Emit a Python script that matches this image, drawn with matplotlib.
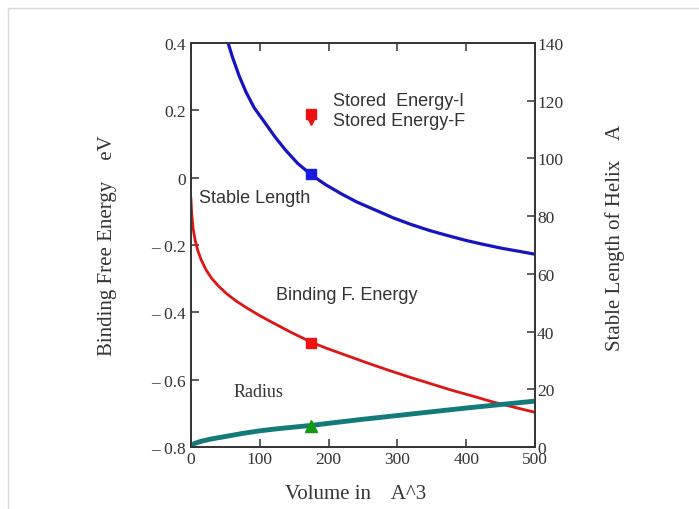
import matplotlib
matplotlib.use('Agg')
import matplotlib.pyplot as plt
from matplotlib.lines import Line2D

# values
# binding free energy (eV, left axis) vs volume (A^3)
vol_energy = [0, 1, 3, 6, 10, 15, 22, 30, 40, 52, 66, 82, 100, 120, 145,
              176, 200, 230, 260, 290, 320, 350, 380, 410, 440, 470, 500]
energy = [-0.063, -0.105, -0.150, -0.185, -0.217, -0.245, -0.274, -0.299,
          -0.322, -0.345, -0.367, -0.388, -0.410, -0.432, -0.459, -0.490,
          -0.509, -0.531, -0.553, -0.574, -0.594, -0.613, -0.632, -0.649,
          -0.667, -0.682, -0.697]

# stable length of helix (A, right axis)
vol_length = [54, 60, 70, 80, 92, 108, 122, 137, 155, 174, 195, 218, 241,
              268, 294, 320, 347, 374, 401, 427, 453, 477, 500]
length = [140, 135.3, 128.6, 123, 117.5, 112.2, 107.5, 103, 98.3, 94.5, 91,
          87.8, 84.9, 82.1, 79.4, 77.1, 75, 73.2, 71.5, 70.1, 68.8, 67.8, 66.8]

# radius (right axis units)
vol_radius = [0, 5, 15, 30, 47, 75, 100, 125, 150, 176, 200, 250, 300, 350,
              400, 450, 500]
radius = [0.4, 1.2, 2.0, 2.8, 3.5, 4.7, 5.6, 6.3, 6.9, 7.5, 8.2, 9.6, 10.9,
          12.2, 13.5, 14.7, 15.9]

# marked points
mark_vol = 174
mark_energy = -0.49
mark_length = 94.5
mark_radius = 7.4
stored_energy_i = 0.19
stored_energy_f = 0.172

left_ticks = [-0.8, -0.6, -0.4, -0.2, 0, 0.2, 0.4]
left_labels = ['\u2013 0.8', '\u2013 0.6', '\u2013 0.4', '\u2013 0.2', '0', '0.2', '0.4']
right_ticks = [0, 20, 40, 60, 80, 100, 120, 140]
x_ticks = [0, 100, 200, 300, 400, 500]

serif = 'Liberation Serif'
sans = 'Liberation Sans'
ink = '#333333'

fig = plt.figure(figsize=(6.99, 5.10), dpi=100)
ax = fig.add_axes([0.2732, 0.1216, 0.4921, 0.7922])
ax2 = ax.twinx()

ax.set_xlim(0, 500)
ax.set_ylim(-0.8, 0.4)
ax2.set_ylim(0, 140)

ax.plot(vol_energy, energy, color='#dd1515', lw=2)
ax2.plot(vol_length, length, color='#1414c0', lw=2.3)
ax2.plot(vol_radius, radius, color='#137a7a', lw=3.5, solid_capstyle='butt')

ax.plot([mark_vol], [mark_energy], 's', color='#ee1111', ms=7.5)
ax.plot([mark_vol], [stored_energy_i], 's', color='#ee1111', ms=6.5)
ax.plot([mark_vol], [stored_energy_f], 'v', color='#ee1111', ms=6.5)
ax2.plot([mark_vol], [mark_length], 's', color='#1a1ae0', ms=7.5)
ax2.plot([mark_vol], [mark_radius], '^', color='#119911', ms=8.5)

ax.set_xticks(x_ticks)
ax.set_xticklabels([str(v) for v in x_ticks])
ax.set_yticks(left_ticks)
ax.set_yticklabels(left_labels)
ax2.set_yticks(right_ticks)
ax2.set_yticklabels([str(v) for v in right_ticks])

for a in (ax, ax2):
    for s in a.spines.values():
        s.set_color(ink)
        s.set_linewidth(1.2)
ax.tick_params(axis='both', direction='in', length=6, width=1.1, color=ink,
               labelcolor=ink, labelsize=12.5, top=True)
ax.tick_params(axis='y', pad=3.5)
ax.tick_params(axis='x', pad=3)
ax2.tick_params(axis='y', direction='in', length=6, width=1.1, color=ink,
                labelcolor=ink, labelsize=12.5, pad=1.5)
for lbl in ax.get_xticklabels() + ax.get_yticklabels() + ax2.get_yticklabels():
    lbl.set_family(serif)

ax.set_xlabel('Volume in    A^3', family=serif, fontsize=15, color=ink)
ax.xaxis.set_label_coords(0.48, -0.092)
ax.set_ylabel('Binding Free Energy    eV', family=serif, fontsize=15, color=ink)
ax.yaxis.set_label_coords(-0.215, 0.5)
ax2.set_ylabel('Stable Length of Helix    A', family=serif, fontsize=15,
               color=ink, rotation=90)
ax2.yaxis.set_label_coords(1.203, 0.52)

ax.text(206, 0.228, 'Stored  Energy-I', family=sans, fontsize=13, color=ink, va='center')
ax.text(206, 0.169, 'Stored Energy-F', family=sans, fontsize=13, color=ink, va='center')
ax.text(12, -0.06, 'Stable Length', family=sans, fontsize=13, color=ink, va='center')
ax.text(124, -0.346, 'Binding F. Energy', family=sans, fontsize=13, color=ink, va='center')
ax.text(62, -0.636, 'Radius', family=serif, fontsize=13, color=ink, va='center')

# light frame of the page behind the chart
fig.add_artist(Line2D([8 / 699, 1], [1 - 9 / 510] * 2, color='#d8d8d8', lw=1))
fig.add_artist(Line2D([8 / 699] * 2, [0, 1 - 9 / 510], color='#d8d8d8', lw=1))

fig.savefig('out.png', dpi=100)
